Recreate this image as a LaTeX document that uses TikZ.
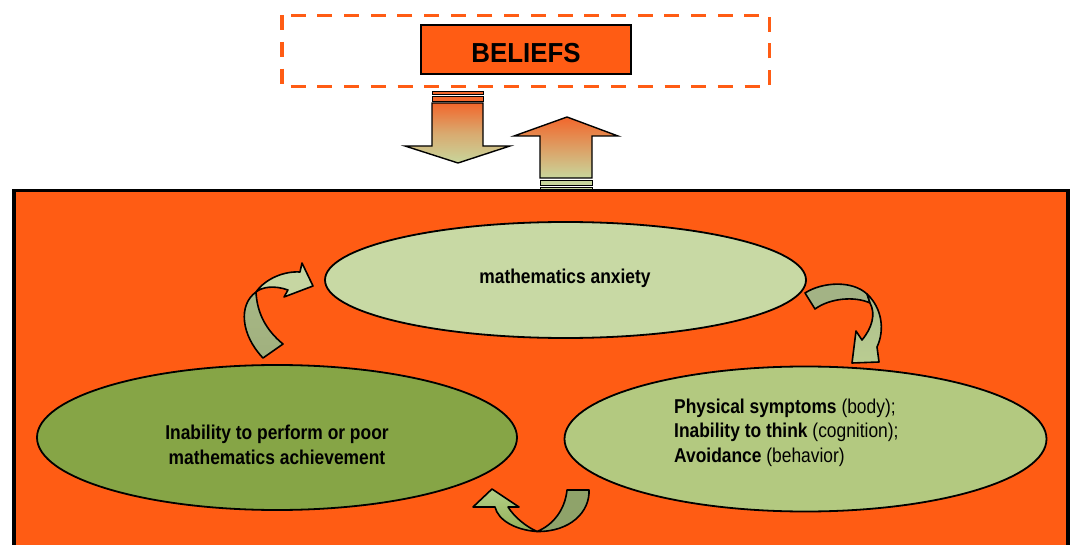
\documentclass[tikz,border=0pt]{standalone}
\usepackage{fontspec}
\setmainfont{Liberation Sans}
\newfontfamily\narrowfont[FakeStretch=0.87]{Liberation Sans}
\newfontfamily\beliefsfont[FakeStretch=0.94]{Liberation Sans}
\usetikzlibrary{shapes.geometric}
\definecolor{bgorange}{HTML}{FF5C14}
\definecolor{arrorange}{HTML}{F2672C}
\definecolor{arrgreen}{HTML}{C8D69C}
\definecolor{elltop}{HTML}{C8D9A4}
\definecolor{ellright}{HTML}{B3C980}
\definecolor{ellleft}{HTML}{86A546}
\definecolor{cAlight}{HTML}{C6D6A2}
\definecolor{cAdark}{HTML}{A0B07E}
\definecolor{cBlight}{HTML}{BACD92}
\definecolor{cBdark}{HTML}{A3B385}
\definecolor{cClight}{HTML}{B3CF86}
\definecolor{cCmid}{HTML}{93B15A}
\definecolor{cCdark}{HTML}{8FA36A}
\tikzset{
  ellbox/.style={draw=black, line width=1.8pt, ellipse, inner sep=0pt},
  curvepart/.style={draw=black, line width=1.6pt, line join=round},
  blockarrow/.style={draw=black, line width=1.4pt, line join=miter},
  stripe/.style={draw=black, line width=0.9pt},
  txt/.style={font=\narrowfont\fontsize{20}{24.5}\selectfont, inner sep=0pt, align=left},
}
\begin{document}
\begin{tikzpicture}[x=1pt,y=-1pt]
\useasboundingbox (0,0) rectangle (1071,545);
% main orange panel
\begin{scope}
\clip (0,0) rectangle (1071,545);
\draw[line width=3.5pt, fill=bgorange] (14,190.5) rectangle (1068,600);
\end{scope}
% dashed frame and beliefs box
\draw[bgorange, line width=3.3pt, dash pattern=on 15pt off 11.7pt] (282,15.3) rectangle (769.7,86.7);
\node (beliefs) [draw=black, line width=1.8pt, fill=bgorange, minimum width=210pt, minimum height=49pt, inner sep=0pt] at (526,49.5) {};
\node (beliefstxt) at (526,53) {\beliefsfont\fontsize{27.5}{30}\selectfont\bfseries BELIEFS};
% down arrow
\draw[stripe, fill=arrorange] (432,91) rectangle (483,94);
\draw[stripe, fill=arrorange] (432,96) rectangle (483,101);
\draw[blockarrow, top color=arrorange, bottom color=arrgreen, middle color=arrgreen!60!arrorange]
  (432,103) -- (483,103) -- (483,146) -- (510,146) -- (458,163) -- (405,146) -- (432,146) -- cycle;
% up arrow
\draw[blockarrow, top color=arrorange, bottom color=arrgreen]
  (540,178) -- (540,136) -- (514,136) -- (567,117) -- (618,136) -- (592,136) -- (592,178) -- cycle;
\draw[stripe, fill=arrgreen] (540,180) rectangle (592,185.5);
\draw[stripe, fill=arrgreen] (540,187) rectangle (592,189);
% ellipses
\node (anxiety) [ellbox, fill=elltop, minimum width=481pt, minimum height=116pt] at (565.5,280) {};
\node (inability) [ellbox, fill=ellleft, minimum width=480pt, minimum height=145pt] at (277,437.5) {};
\node (symptoms) [ellbox, fill=ellright, minimum width=482pt, minimum height=145pt] at (805.5,439) {};
\node (anxietytxt) [txt] at (565,278) {\bfseries mathematics anxiety};
\node (inabilitytxt) [txt, align=center] at (277,445) {\bfseries Inability to perform or poor\\\bfseries mathematics achievement};
\node (symptomstxt) [txt, anchor=west] at (674,432.5) {\textbf{Physical symptoms} (body);\\\textbf{Inability to think} (cognition);\\\textbf{Avoidance} (behavior)};
% curved arrow A (upper left)
\draw[curvepart, top color=cAdark!80!cAlight, bottom color=cAdark]
  (263,358) .. controls (241,335) and (238,305) .. (256,292)
  .. controls (257,314) and (267,331) .. (283,344) -- cycle;
\draw[curvepart, fill=cAlight]
  (256,292) .. controls (266,278) and (285,271) .. (300,272) -- (302,263) -- (313,286) -- (284,297) -- (288,290)
  .. controls (274,285) and (262,287) .. (256,292) -- cycle;
% curved arrow B (upper right)
\draw[curvepart, fill=cBdark]
  (805,293) .. controls (822,282) and (852,280) .. (867,294) -- (870,303)
  .. controls (855,296) and (830,298) .. (815,309) -- cycle;
\draw[curvepart, top color=cBdark!60!cBlight, bottom color=cBlight]
  (867,294) .. controls (882,308) and (885,330) .. (877,347) -- (879,362) -- (852,363) -- (856,331) -- (862,340)
  .. controls (872,328) and (876,314) .. (870,303) -- cycle;
% curved arrow C (bottom)
\draw[curvepart, fill=cCdark]
  (567,490) -- (589,490) .. controls (590,512) and (570,532) .. (537,531.5)
  .. controls (553,525) and (565,510) .. (567,490) -- cycle;
\draw[curvepart, top color=cClight, bottom color=cCmid]
  (537,531.5) .. controls (515,530) and (498,520) .. (495,507) -- (473,507) -- (492,489) -- (519,507) -- (508,507)
  .. controls (515,518) and (527,527) .. (537,531.5) -- cycle;
\end{tikzpicture}
\end{document}
